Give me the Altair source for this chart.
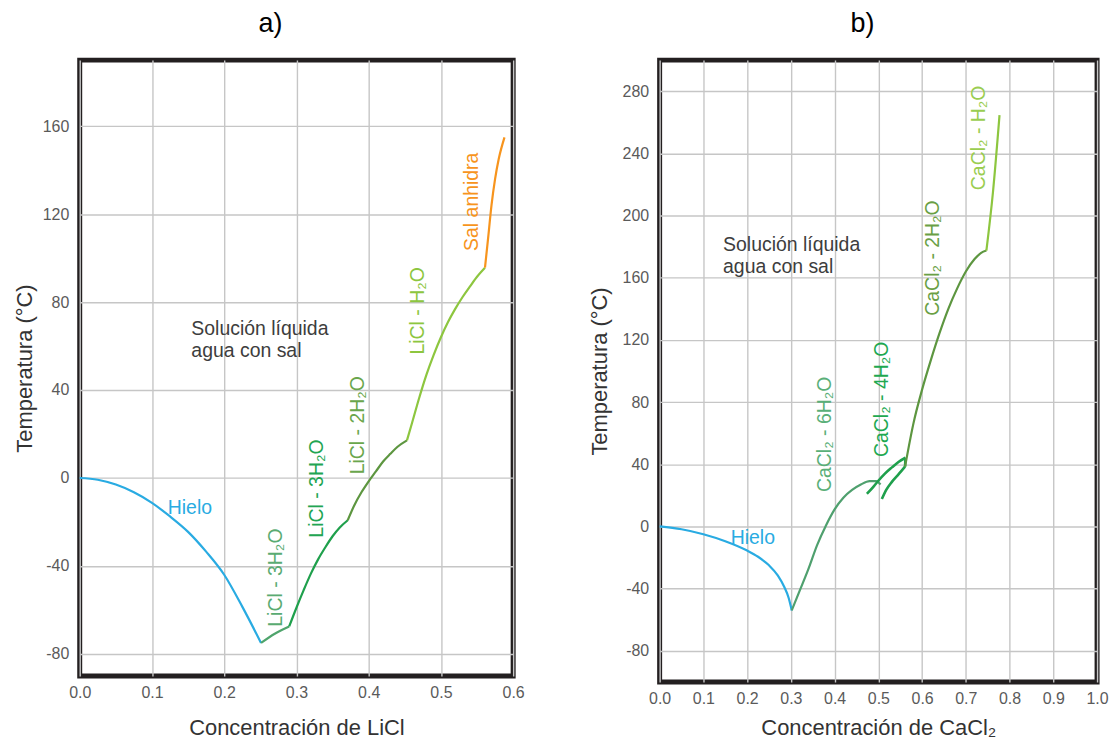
import altair as alt
import pandas as pd

# ---------------- Panel a) LiCl ----------------
licl_hielo_x = [0.0, 0.025, 0.05, 0.075, 0.10, 0.125, 0.15, 0.175, 0.20, 0.225, 0.251]
licl_hielo_y = [0, -0.8, -3, -6.5, -11.3, -17.5, -24.5, -33.5, -44, -58.5, -75]
licl_3h2o_a_x = [0.251, 0.27, 0.29]
licl_3h2o_a_y = [-75, -70.8, -67.5]
licl_3h2o_b_x = [0.29, 0.30, 0.31, 0.32, 0.33, 0.34, 0.35, 0.36, 0.371]
licl_3h2o_b_y = [-67.5, -59, -51, -43.5, -37, -31.5, -26.5, -22.5, -19.2]
licl_2h2o_x = [0.371, 0.38, 0.39, 0.40, 0.41, 0.42, 0.43, 0.44, 0.453]
licl_2h2o_y = [-19.2, -12.5, -6.5, -1.5, 3, 7.5, 11, 14.2, 17.1]
licl_h2o_x = [0.453, 0.46, 0.47, 0.48, 0.49, 0.50, 0.51, 0.52, 0.53, 0.54, 0.55, 0.561]
licl_h2o_y = [17.1, 25, 36.5, 47, 56, 64, 71, 77, 82.3, 87, 91.5, 95.6]
licl_sal_x = [0.561, 0.565, 0.57, 0.575, 0.58, 0.588]
licl_sal_y = [95.6, 108, 124, 136, 145, 154.9]

licl_label_text = ["Hielo", "LiCl - 3H₂O", "LiCl - 3H₂O", "LiCl - 2H₂O", "LiCl - H₂O", "Sal anhidra"]
licl_label_x = [0.1525, 0.272, 0.328, 0.385, 0.468, 0.543]
licl_label_y = [-13.5, -45.3, -4.8, 24, 76, 125.6]

licl_x_ticks = [0.0, 0.1, 0.2, 0.3, 0.4, 0.5, 0.6]
licl_y_ticks = [-80, -40, 0, 40, 80, 120, 160]

# ---------------- Panel b) CaCl2 ----------------
cacl_hielo_x = [0.0, 0.05, 0.10, 0.15, 0.20, 0.225, 0.25, 0.27, 0.285, 0.295, 0.302]
cacl_hielo_y = [0, -1.8, -5, -9.5, -15.5, -19.5, -25, -31.5, -39, -46, -54]
cacl_6h2o_x = [0.302, 0.32, 0.34, 0.36, 0.38, 0.40, 0.42, 0.44, 0.46, 0.48, 0.495, 0.505]
cacl_6h2o_y = [-54, -41.5, -27.5, -12, 0.5, 11, 18.5, 23.5, 27, 29.2, 29.2, 27]
cacl_4h2o_a_x = [0.474, 0.49, 0.50, 0.515, 0.531, 0.546, 0.562]
cacl_4h2o_a_y = [21, 26, 29.4, 34, 38, 41.5, 44.2]
cacl_4h2o_b_x = [0.508, 0.518, 0.531, 0.546, 0.561]
cacl_4h2o_b_y = [17.6, 23.5, 28.7, 33.5, 38.5]
cacl_4h2o_c_x = [0.562, 0.561]
cacl_4h2o_c_y = [44.2, 38.5]
cacl_2h2o_x = [0.561, 0.57, 0.58, 0.60, 0.62, 0.64, 0.66, 0.68, 0.70, 0.72, 0.735, 0.747]
cacl_2h2o_y = [38.5, 52, 66, 88, 107, 124.5, 140, 153, 164, 172, 176, 177.5]
cacl_h2o_x = [0.747, 0.762, 0.777]
cacl_h2o_y = [177.5, 215, 264.6]

cacl_label_text = ["Hielo", "CaCl₂ - 6H₂O", "CaCl₂ - 4H₂O", "CaCl₂ - 2H₂O", "CaCl₂ - H₂O"]
cacl_label_x = [0.213, 0.378, 0.508, 0.626, 0.729]
cacl_label_y = [-7.2, 59.3, 81.8, 172.7, 250]

cacl_x_ticks = [0.0, 0.1, 0.2, 0.3, 0.4, 0.5, 0.6, 0.7, 0.8, 0.9, 1.0]
cacl_y_ticks = [-80, -40, 0, 40, 80, 120, 160, 200, 240, 280]

solucion_text = "Solución líquida\nagua con sal"
licl_sol_pos = (0.1545, 67.7)
cacl_sol_pos = (0.145, 181)

# ---------------- styles ----------------
C_ICE = "#29abe2"
C_MUTED = "#4fa46c"
C_BRIGHT = "#1fa04c"
C_OLIVE = "#5d9640"
C_LIGHT = "#8dc63f"
C_ORANGE = "#f7941d"

licl_seg_colors = [C_ICE, C_MUTED, C_BRIGHT, C_OLIVE, C_LIGHT, C_ORANGE]
licl_seg_widths = [2.2, 2.2, 2.2, 2.2, 2.2, 2.2]
licl_label_colors = [C_ICE, "#5aab72", "#22a552", "#6aa64c", C_LIGHT, C_ORANGE]
licl_label_angles = [0, 270, 270, 270, 270, 270]

cacl_seg_colors = [C_ICE, "#4fa06e", C_BRIGHT, C_BRIGHT, C_BRIGHT, C_OLIVE, C_LIGHT]
cacl_seg_widths = [2.2, 2.2, 2.6, 2.6, 2.6, 2.2, 2.2]
cacl_label_colors = [C_ICE, "#5aaf78", "#20a850", "#6a9f45", "#9acd50"]
cacl_label_angles = [0, 270, 270, 270, 270]

FONT = "Liberation Sans"


def lines_frame(segs, colors, widths):
    rows = []
    for s, ((xs, ys), col, w) in enumerate(zip(segs, colors, widths)):
        for i, (xv, yv) in enumerate(zip(xs, ys)):
            rows.append({"x": xv, "y": yv, "seg": s, "i": i, "color": col, "w": w})
    return pd.DataFrame(rows)


def labels_frame(texts, xs, ys, colors, angles):
    return pd.DataFrame({"t": texts, "x": xs, "y": ys, "color": colors, "angle": angles})


def panel(segs, seg_colors, seg_widths, lab, sol_pos, xdom, ydom, xticks, yticks,
          xtitle, title, w, h, title_dx, ytitle_pad, xtitle_pad):
    xscale = alt.Scale(domain=xdom, nice=False, zero=False)
    yscale = alt.Scale(domain=ydom, nice=False, zero=False)
    common_axis = dict(grid=True, gridColor="#c6c6c6", gridWidth=1.4, domain=False,
                       ticks=False, labelFont=FONT, labelFontSize=16, labelColor="#5a5a5a",
                       labelFlush=False, labelOverlap=False,
                       titleFont=FONT, titleFontSize=22, titleFontWeight="normal",
                       titleColor="#333333")
    xaxis = alt.Axis(values=xticks, labelExpr="format(datum.value, '.1f')", title=xtitle,
                     labelPadding=9, titlePadding=xtitle_pad, **common_axis)
    yaxis = alt.Axis(values=yticks, labelExpr="'' + datum.value", title="Temperatura (°C)",
                     labelPadding=11, titlePadding=ytitle_pad, **common_axis)

    df = lines_frame(segs, seg_colors, seg_widths)
    lines = alt.Chart(df).mark_line(interpolate="monotone").encode(
        x=alt.X("x:Q", scale=xscale, axis=xaxis),
        y=alt.Y("y:Q", scale=yscale, axis=yaxis),
        color=alt.Color("color:N", scale=None),
        strokeWidth=alt.StrokeWidth("w:Q", scale=None),
        detail="seg:N",
        order="i:Q",
    )
    texts = alt.Chart(lab).mark_text(font=FONT, fontSize=19.5, align="center",
                                     baseline="middle").encode(
        x=alt.X("x:Q", scale=xscale),
        y=alt.Y("y:Q", scale=yscale),
        text="t:N",
        color=alt.Color("color:N", scale=None),
        angle=alt.Angle("angle:Q", scale=None),
    )
    sol = alt.Chart(pd.DataFrame({"x": [sol_pos[0]], "y": [sol_pos[1]], "t": [solucion_text]})).mark_text(
        font=FONT, fontSize=19.5, align="left", baseline="middle", lineBreak="\n",
        lineHeight=22, color="#3d3d3d").encode(
        x=alt.X("x:Q", scale=xscale),
        y=alt.Y("y:Q", scale=yscale),
        text="t:N",
    )
    return alt.layer(lines, texts, sol).properties(
        width=w, height=h,
        title=alt.TitleParams(title, font=FONT, fontSize=27, fontWeight="normal",
                              color="#000000", anchor="middle", dx=title_dx, offset=22),
    )


left = panel(
    [(licl_hielo_x, licl_hielo_y), (licl_3h2o_a_x, licl_3h2o_a_y), (licl_3h2o_b_x, licl_3h2o_b_y),
     (licl_2h2o_x, licl_2h2o_y), (licl_h2o_x, licl_h2o_y), (licl_sal_x, licl_sal_y)],
    licl_seg_colors, licl_seg_widths,
    labels_frame(licl_label_text, licl_label_x, licl_label_y, licl_label_colors, licl_label_angles),
    licl_sol_pos, [0, 0.6], [-90, 190], licl_x_ticks, licl_y_ticks,
    "Concentración de LiCl", "a)", 435, 618, -26, 6, 17,
)

right = panel(
    [(cacl_hielo_x, cacl_hielo_y), (cacl_6h2o_x, cacl_6h2o_y), (cacl_4h2o_a_x, cacl_4h2o_a_y),
     (cacl_4h2o_b_x, cacl_4h2o_b_y), (cacl_4h2o_c_x, cacl_4h2o_c_y), (cacl_2h2o_x, cacl_2h2o_y),
     (cacl_h2o_x, cacl_h2o_y)],
    cacl_seg_colors, cacl_seg_widths,
    labels_frame(cacl_label_text, cacl_label_x, cacl_label_y, cacl_label_colors, cacl_label_angles),
    cacl_sol_pos, [0, 1.0], [-100, 300], cacl_x_ticks, cacl_y_ticks,
    "Concentración de CaCl₂", "b)", 439, 624, -16, 11, 11,
)

chart = alt.hconcat(left, right, spacing=58).properties(
    padding={"left": 10, "top": 6, "right": 5, "bottom": 5},
    background="white",
).configure_view(stroke="#231f20", strokeWidth=5)

chart.save("out.html", embed_options={"renderer": "svg", "actions": False})
